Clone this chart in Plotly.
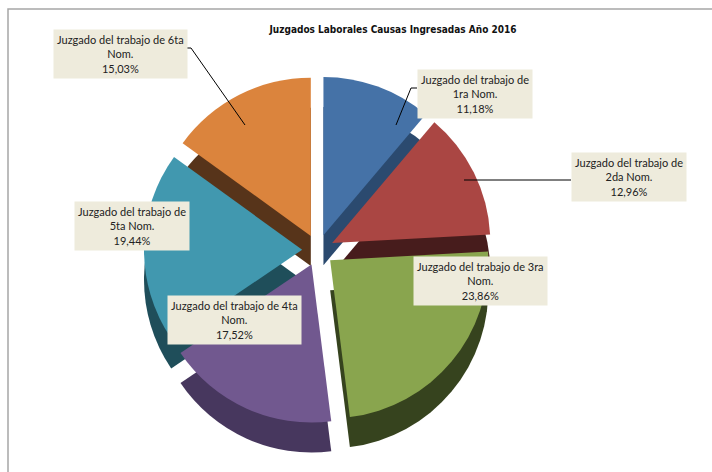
import plotly.graph_objects as go

# ---- data ----
categories = ["Juzgado del trabajo de 1ra Nom.", "Juzgado del trabajo de 2da Nom.",
              "Juzgado del trabajo de 3ra Nom.", "Juzgado del trabajo de 4ta Nom.",
              "Juzgado del trabajo de 5ta Nom.", "Juzgado del trabajo de 6ta Nom."]
label_lines = [["Juzgado del trabajo de", "1ra Nom."],
               ["Juzgado del trabajo de", "2da Nom."],
               ["Juzgado del trabajo de 3ra", "Nom."],
               ["Juzgado del trabajo de 4ta", "Nom."],
               ["Juzgado del trabajo de", "5ta Nom."],
               ["Juzgado del trabajo de 6ta", "Nom."]]
values = [11.18, 12.96, 23.86, 17.52, 19.44, 15.03]
title_text = "Juzgados Laborales Causas Ingresadas Año 2016"

# ---- style ----
top_colors = ["#4572A7", "#AA4643", "#89A54E", "#71588F", "#4198AF", "#DB843D"]
side_colors = ["#2B4A6F", "#471C1C", "#36431E", "#47375E", "#1F4E5A", "#57341A"]
W, H = 712, 472
cx, cy, half = 318, 250, 174
depth = 30

def dom(x0, y0, h):
    return dict(x=[(x0 - h) / W, (x0 + h) / W], y=[1 - (y0 + h) / H, 1 - (y0 - h) / H])

fig = go.Figure()
for cols, dy in [(side_colors, depth), (top_colors, 0)]:
    fig.add_trace(go.Pie(
        labels=categories, values=values, sort=False, direction="clockwise",
        rotation=0, pull=[0.1] * len(values), marker=dict(colors=cols, line=dict(width=0)),
        textinfo="none", hoverinfo="label+percent", showlegend=False,
        domain=dom(cx, cy + dy, half)))

# label boxes (center px) and leader lines
box_pos = [(475, 94), (629, 177), (480, 281), (234, 320), (132, 226), (120, 54)]
leaders = {0: [(417, 88), (411, 88), (396, 125)],
           1: [(571, 180), (464, 180)],
           5: [(187, 48), (191, 48), (245, 125)]}
for i, (bx, by) in enumerate(box_pos):
    pct = f"{values[i]:.2f}".replace(".", ",") + "%"
    txt = "<br>".join(label_lines[i] + [pct])
    fig.add_annotation(x=bx / W, y=1 - by / H, xref="paper", yref="paper", text=txt,
                       xanchor="center", yanchor="middle",
                       showarrow=False, bgcolor="#EEEBDC", borderpad=3, align="center",
                       font=dict(family="Lato, sans-serif", size=11, color="#222222"))
for i, pts in leaders.items():
    path = "M " + " L ".join(f"{x / W},{1 - y / H}" for x, y in pts)
    fig.add_shape(type="path", path=path, xref="paper", yref="paper",
                  line=dict(color="#000000", width=1))

# chart frame
fig.add_shape(type="rect", xref="paper", yref="paper", x0=8 / W, y0=-0.05, x1=1.05,
              y1=1 - 9 / H, line=dict(color="#A6A6A6", width=1.5))

fig.update_layout(
    width=W, height=H, margin=dict(l=0, r=0, t=0, b=0),
    paper_bgcolor="white", plot_bgcolor="white",
    title=dict(text="<b>" + title_text + "</b>", x=393 / W, xanchor="center",
               y=1 - 29 / H, yanchor="middle",
               font=dict(family="DejaVu Sans Condensed, Liberation Sans, sans-serif",
                         size=10, color="#111111")))
fig.write_html("out.html")
